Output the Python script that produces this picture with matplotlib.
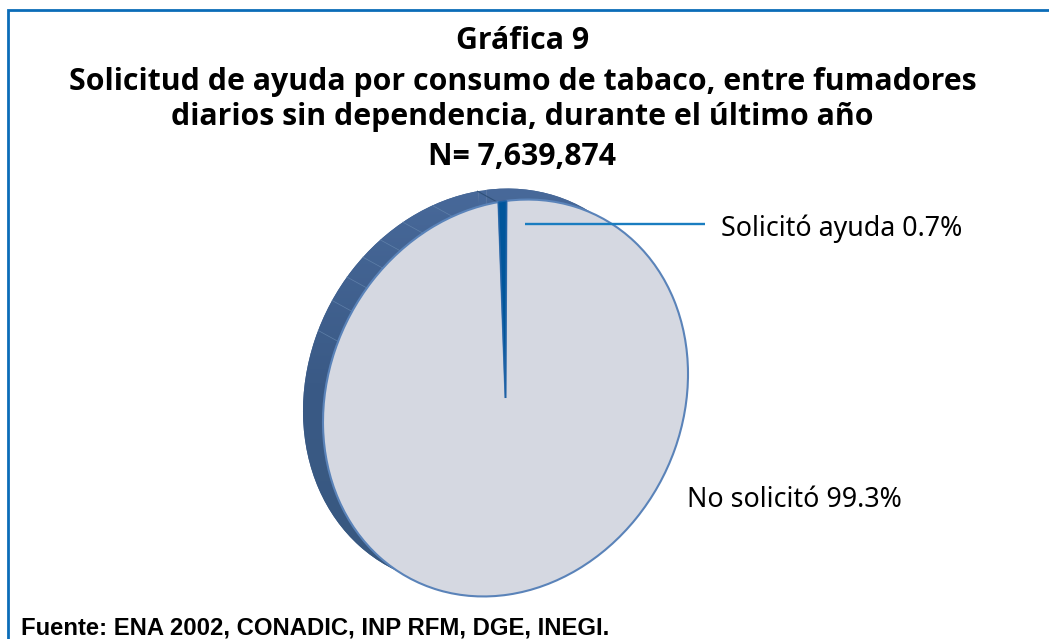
import numpy as np
import matplotlib
matplotlib.use('Agg')
import matplotlib.pyplot as plt
from matplotlib.transforms import Affine2D

# data
labels = ['Solicitó ayuda', 'No solicitó']
values = [0.7, 99.3]
title_lines = ['Gráfica 9',
               'Solicitud de ayuda por consumo de tabaco, entre fumadores',
               'diarios sin dependencia, durante el último año',
               'N= 7,639,874']
source = 'Fuente: ENA 2002, CONADIC, INP RFM, DGE, INEGI.'

W, H = 1049, 639
fig = plt.figure(figsize=(W / 100, H / 100), dpi=100, facecolor='white')
ax = fig.add_axes([0, 0, 1, 1])

# tilted ellipse the pie gets mapped to, in pixels (y up)
cx, cy = 505.5, H - 398
tilt = [[182.5, 0], [24, 197]]


def face(dx, dy):
    return Affine2D.from_values(tilt[0][0], tilt[1][0], tilt[0][1], tilt[1][1], cx + dx, cy + dy)


# back of the pie (the side wall)
back, _ = ax.pie(values, startangle=89.7, colors=['#46689a', '#3f6190'])
for w in back:
    w.set_transform(face(-20, 11) + ax.transData)
    w.set_edgecolor('none')

# side wall shading, lighter at the top
grad = np.linspace(0, 1, 256).reshape(-1, 1)
cmap = matplotlib.colors.LinearSegmentedColormap.from_list('wall', ['#48699a', '#3a5a86', '#38587f'])
im = ax.imshow(grad, extent=[290, 610, H - 580, H - 185], cmap=cmap, aspect='auto', zorder=2)
im.set_clip_path(back[1])

# faint joins on the side wall
for a in [156.5, 147.2, 139.4, 132.2, 125.2, 116.9, 106.9]:
    p = np.array([np.cos(np.radians(a)), np.sin(np.radians(a))])
    x0, y0 = face(0, 0).transform(p)
    x1, y1 = face(-20, 11).transform(p)
    ax.plot([x0, x1], [y0, y1], color='#5f80a9', lw=0.5, zorder=3)
p = np.array([np.cos(np.radians(92.5)), np.sin(np.radians(92.5))])
x0, y0 = face(0, 0).transform(p)
x1, y1 = face(-20, 11).transform(p)
ax.plot([x0, x1], [y0, y1], color='#2f5078', lw=0.8, zorder=3)

# top of the pie
top, _ = ax.pie(values, startangle=89.7, colors=['#00569b', '#d5d8e1'],
                wedgeprops={'edgecolor': '#5a83b9', 'linewidth': 1.5})
for w in top:
    w.set_transform(face(0, 0) + ax.transData)
    w.set_zorder(4)
top[0].set_zorder(5)
top[0].set_edgecolor('#1d62a5')
top[0].set_linewidth(1.0)

ax.set_aspect('auto')
ax.set_xlim(0, W)
ax.set_ylim(0, H)
ax.axis('off')

# leader line
ax.plot([525, 705], [H - 223.5, H - 223.5], color='#1a7dc0', lw=1.7, zorder=6, solid_capstyle='butt')

# frame, only top and left
ax.plot([8, 8, W], [0, H - 10, H - 10], color='#0b6cb8', lw=2, zorder=6,
        solid_joinstyle='miter', solid_capstyle='butt')

# titles
for line, y in zip(title_lines, [49, 90, 125, 165]):
    ax.text(522.5, H - y, line, ha='center', va='baseline', fontsize=21.8, fontweight='bold',
            family='Open Sans', color='black', zorder=7)

ax.text(721, H - 236, f'{labels[0]} {values[0]}%', fontsize=19.3, family='Noto Sans', va='baseline', zorder=7)
ax.text(687, H - 507, f'{labels[1]} {values[1]}%', fontsize=19.3, family='Noto Sans', va='baseline', zorder=7)
ax.text(21, H - 634, source, fontsize=17.2, fontweight='bold', family='Liberation Sans', va='baseline', zorder=7)

fig.savefig('out.png', dpi=100, facecolor='white')
